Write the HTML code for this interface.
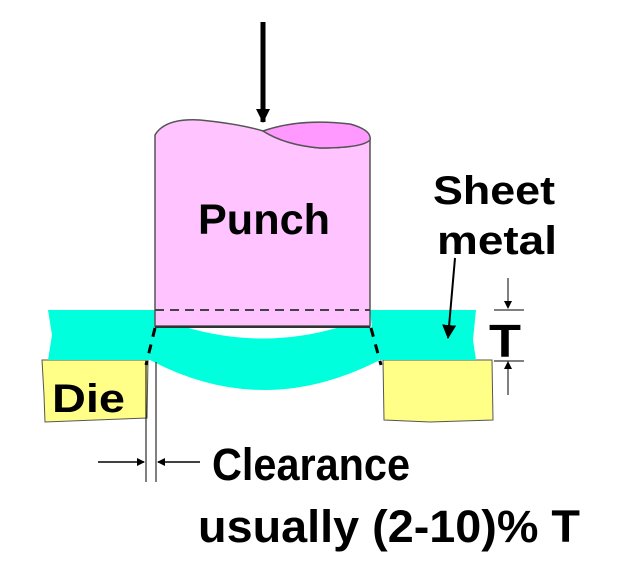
<!DOCTYPE html>
<html><head><style>
body{margin:0;background:#fff;}
svg{display:block;}
text{font-family:"Liberation Sans",sans-serif;font-weight:bold;fill:#000;}
</style></head><body>
<svg width="630" height="570" viewBox="0 0 630 570">
<defs><marker id="ah" markerWidth="8" markerHeight="8" refX="7" refY="4" orient="auto" markerUnits="userSpaceOnUse"><path d="M0,0 L8,4 L0,8z" fill="#000"/></marker>
<marker id="ab" markerWidth="14" markerHeight="14" refX="13" refY="7" orient="auto" markerUnits="userSpaceOnUse"><path d="M0,0 L14,7 L0,14z" fill="#000"/></marker></defs>
<!-- die -->
<path d="M42,360 L148,360 L147,418 L45,422 L44,395z" fill="#ffff88" stroke="#555" stroke-width="1"/>
<path d="M383,360 L492,360 L493,420 L430,422 L384,420z" fill="#ffff88" stroke="#555" stroke-width="1"/>
<!-- sheet -->
<path d="M48,310 L155,310 L155,328 L150,360 L48,360 L52,335z" fill="#00ffdd"/>
<path d="M370,310 L476,310 L473,340 L476,360 L380,360 L372,328z" fill="#00ffdd"/>
<path d="M155,327 L185,327 Q263,350 340,327 L372,327 L380,360 Q263,420 150,360z" fill="#00ffdd"/>
<!-- punch -->
<path d="M155,135 Q165,118 200,120 Q240,124 263,131 Q285,145 320,148 Q362,148 370,140 L370,326 L155,326z" fill="#ffc4ff" stroke="#555" stroke-width="1.5"/>
<path d="M263,131 Q300,118 350,124 Q372,130 370,140 Q362,148 320,148 Q285,145 263,131z" fill="#ff99ff" stroke="#555" stroke-width="1.5"/>
<line x1="155" y1="310" x2="370" y2="310" stroke="#444" stroke-width="2" stroke-dasharray="9,6"/>
<line x1="155" y1="327" x2="370" y2="327" stroke="#333" stroke-width="2"/>
<path d="M155,328 L146,365" stroke="#000" stroke-width="3" stroke-dasharray="9,8"/>
<path d="M371,328 L381,365" stroke="#000" stroke-width="3" stroke-dasharray="9,8"/>
<!-- force arrow -->
<line x1="263" y1="22" x2="263" y2="122" stroke="#000" stroke-width="5" marker-end="url(#ab)"/>
<!-- T dimension -->
<line x1="508" y1="278" x2="508" y2="308" stroke="#000" stroke-width="1" marker-end="url(#ah)"/>
<line x1="508" y1="395" x2="508" y2="362" stroke="#000" stroke-width="1" marker-end="url(#ah)"/>
<line x1="494" y1="310" x2="524" y2="310" stroke="#000"/>
<line x1="494" y1="361" x2="524" y2="361" stroke="#000"/>
<!-- sheet arrow -->
<line x1="455" y1="258" x2="448" y2="338" stroke="#000" stroke-width="2" marker-end="url(#ab)"/>
<!-- clearance -->
<line x1="146" y1="362" x2="146" y2="482" stroke="#000"/>
<line x1="156" y1="362" x2="156" y2="482" stroke="#000"/>
<line x1="98" y1="462" x2="144" y2="462" stroke="#000" stroke-width="1.5" marker-end="url(#ah)"/>
<line x1="200" y1="462" x2="158" y2="462" stroke="#000" stroke-width="1.5" marker-end="url(#ah)"/>
<text x="198" y="234" font-size="43" textLength="132" lengthAdjust="spacingAndGlyphs">Punch</text>
<text x="433" y="204" font-size="40" textLength="122" lengthAdjust="spacingAndGlyphs">Sheet</text>
<text x="437" y="254" font-size="40" textLength="120" lengthAdjust="spacingAndGlyphs">metal</text>
<text x="489" y="357" font-size="46" textLength="32" lengthAdjust="spacingAndGlyphs">T</text>
<text x="52" y="412" font-size="40" textLength="73" lengthAdjust="spacingAndGlyphs">Die</text>
<text x="212" y="480" font-size="45" textLength="198" lengthAdjust="spacingAndGlyphs">Clearance</text>
<text x="198" y="542" font-size="45" textLength="382" lengthAdjust="spacingAndGlyphs">usually (2-10)% T</text>
</svg>
</body></html>
